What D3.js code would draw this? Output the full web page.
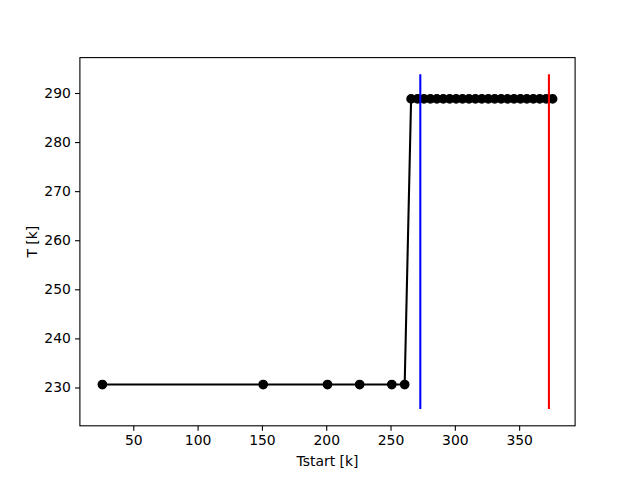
<!DOCTYPE html>
<html><head><meta charset="utf-8">
<script src="https://cdn.jsdelivr.net/npm/d3@7"></script>
<style>body{margin:0;background:#fff}svg{display:block}</style>
</head><body>
<script>
const tstart = [26,151,201,226,251,261,266,271,276,281,286,291,296,301,306,311,316,321,326,331,336,341,346,351,356,361,366,371,376];
const temps  = [230.6,230.6,230.6,230.6,230.6,230.6,288.8,288.8,288.8,288.8,288.8,288.8,288.8,288.8,288.8,288.8,288.8,288.8,288.8,288.8,288.8,288.8,288.8,288.8,288.8,288.8,288.8,288.8,288.8];
const vlinesX = [273.15, 373.15];
const vlineColors = ["#0000ff", "#ff0000"];
const vlineRange = [225.6, 293.8];
const xTicks = [50,100,150,200,250,300,350];
const yTicks = [230,240,250,260,270,280,290];

const W = 639, H = 479;
const L = 79.9, R = 575.1, T = 57.6, B = 425.8;
const svg = d3.select("body").append("svg").attr("width", W).attr("height", H);
function pad(ext){ const m = (ext[1]-ext[0])*0.05; return [ext[0]-m, ext[1]+m]; }
const x = d3.scaleLinear().domain(pad(d3.extent(tstart))).range([L, R]);
const y = d3.scaleLinear().domain(pad(d3.extent(temps.concat(vlineRange)))).range([B, T]);
const font = "DejaVu Sans, sans-serif";

const data = tstart.map((d,i)=>[d, temps[i]]);
const g = svg.append("g");
g.append("path").datum(data)
  .attr("fill","none").attr("stroke","#000").attr("stroke-width",2.08)
  .attr("stroke-linejoin","round")
  .attr("d", d3.line().x(d=>x(d[0])).y(d=>y(d[1])));
g.selectAll("circle").data(data).enter().append("circle")
  .attr("cx", d=>x(d[0])).attr("cy", d=>y(d[1])).attr("r", 4.17)
  .attr("fill","#000").attr("stroke","#000").attr("stroke-width",1.39);

vlinesX.forEach((v,i)=>{
  g.append("line").attr("x1",x(v)).attr("x2",x(v))
    .attr("y1",y(vlineRange[0])).attr("y2",y(vlineRange[1]))
    .attr("stroke",vlineColors[i]).attr("stroke-width",2.08);
});

const xAxis = d3.axisBottom(x).tickValues(xTicks).tickSize(4.86).tickPadding(4.2).tickFormat(d3.format("d"));
const yAxis = d3.axisLeft(y).tickValues(yTicks).tickSize(4.86).tickPadding(4.2).tickFormat(d3.format("d"));
const gx = svg.append("g").attr("transform",`translate(0,${B})`).call(xAxis);
const gy = svg.append("g").attr("transform",`translate(${L},0)`).call(yAxis);
[gx,gy].forEach(a=>{
  a.select(".domain").remove();
  a.selectAll(".tick line").attr("stroke","#000").attr("stroke-width",1.1);
  a.selectAll(".tick text").attr("font-family",font).attr("font-size","13.9px").attr("fill","#000");
});
svg.append("rect").attr("x",L).attr("y",T).attr("width",R-L).attr("height",B-T)
  .attr("fill","none").attr("stroke","#000").attr("stroke-width",1.1);

svg.append("text").attr("x",(L+R)/2).attr("y",466).attr("text-anchor","middle")
  .attr("font-family",font).attr("font-size","13.9px").text("Tstart [k]");
svg.append("text").attr("transform",`translate(37,${(T+B)/2}) rotate(-90)`).attr("text-anchor","middle")
  .attr("font-family",font).attr("font-size","13.9px").text("T [k]");
</script>
</body></html>
